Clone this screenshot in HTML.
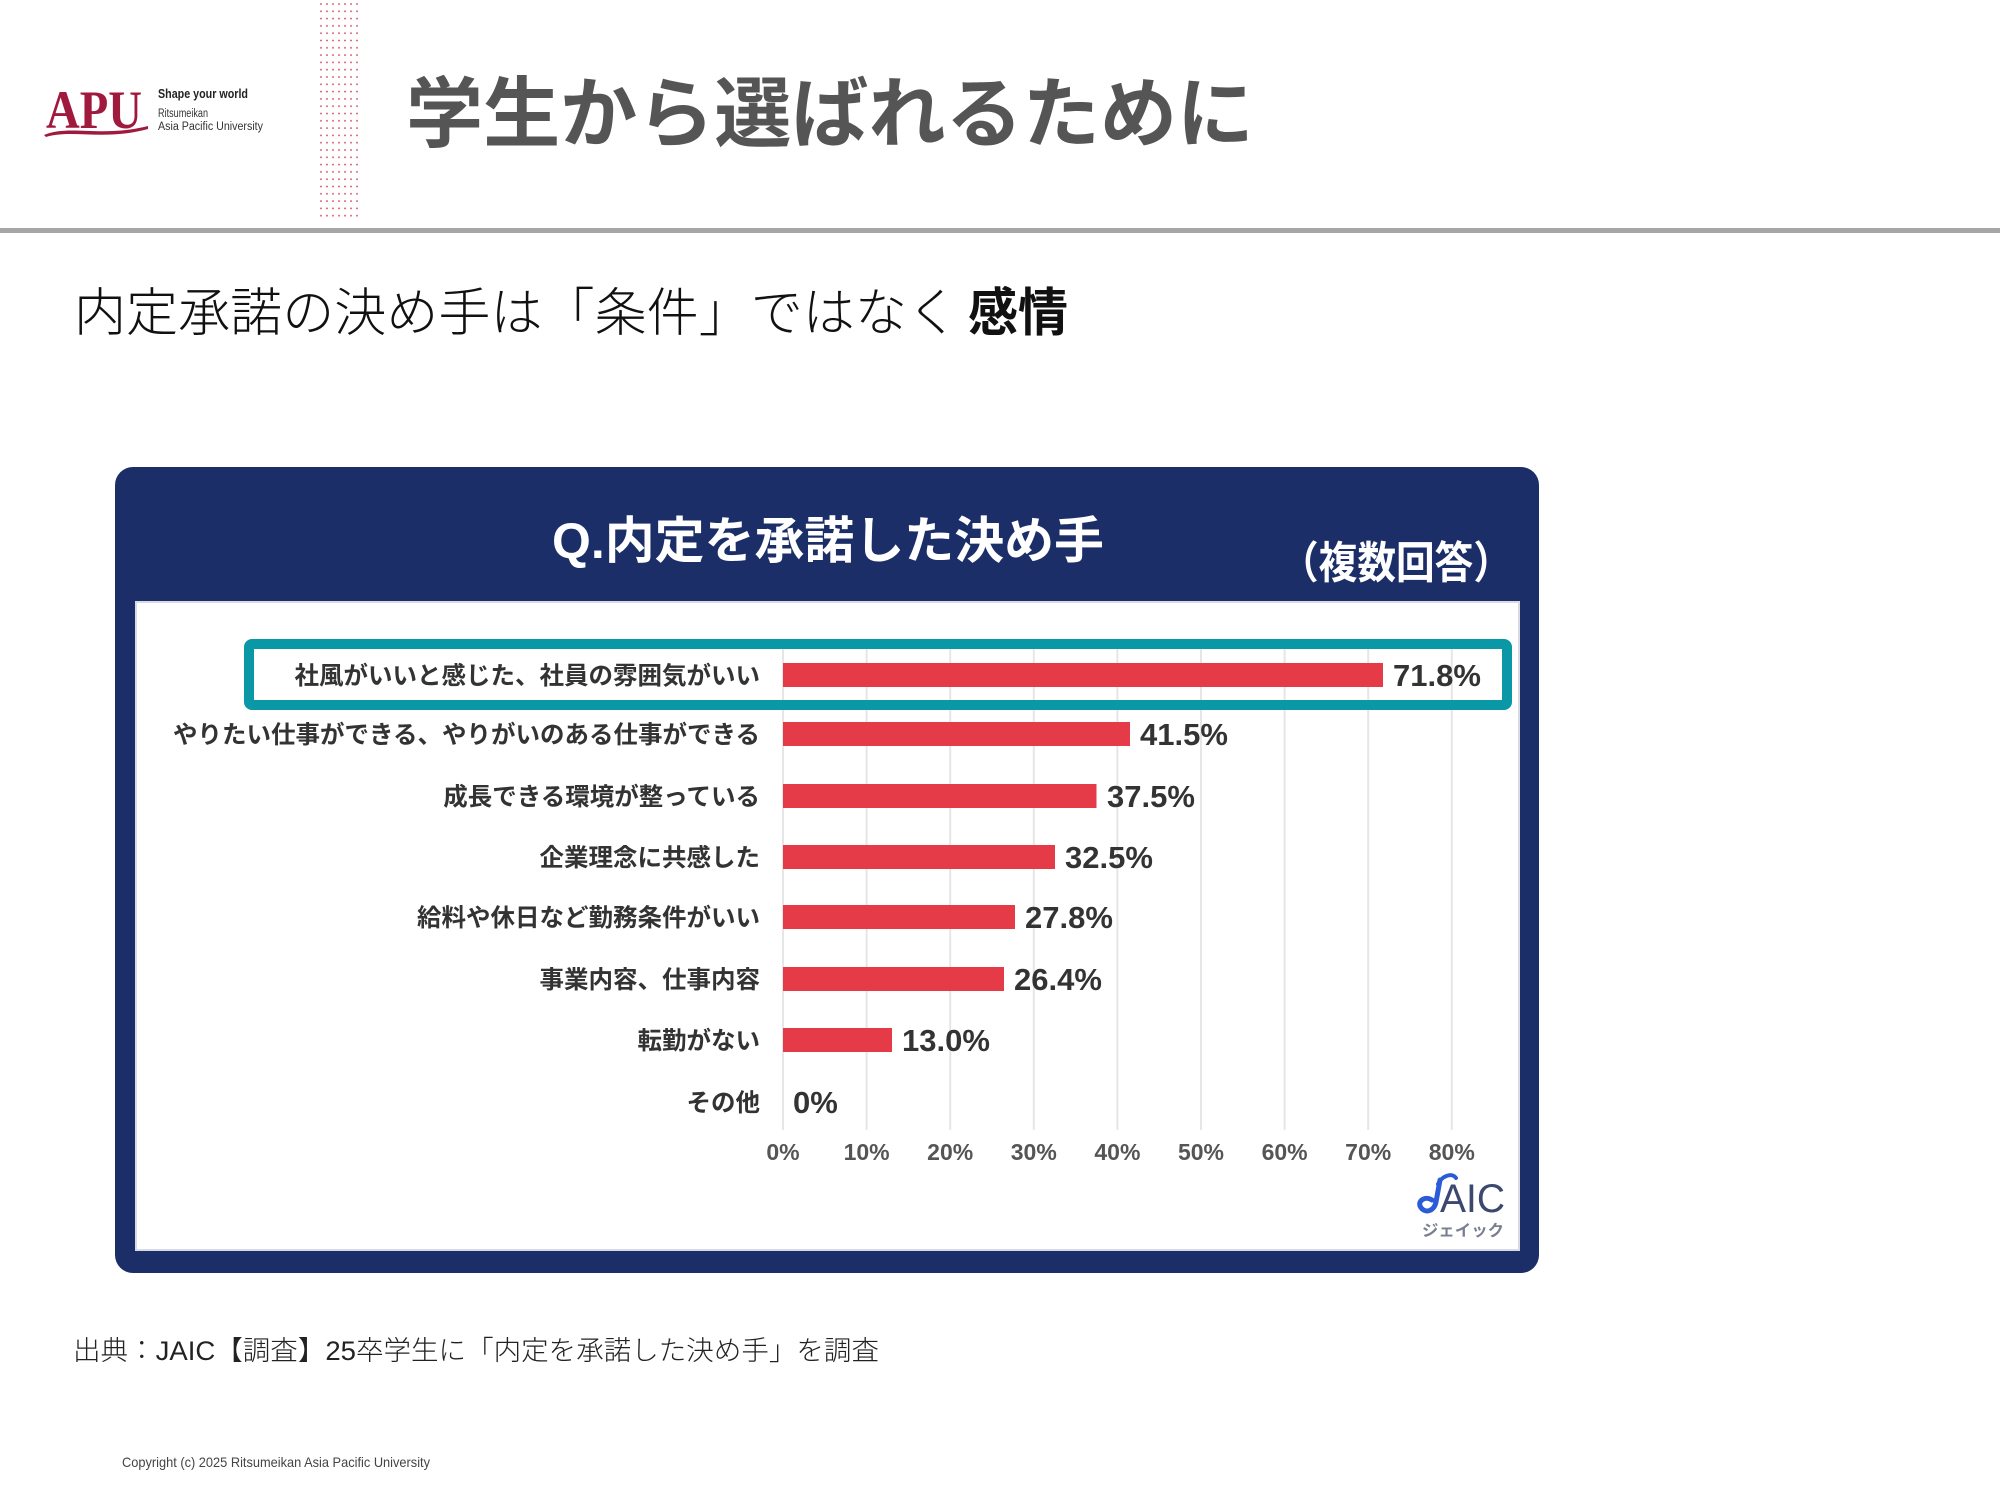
<!DOCTYPE html>
<html lang="ja">
<head>
<meta charset="utf-8">
<style>
  html, body { margin: 0; padding: 0; background: #ffffff; }
  body { width: 2000px; height: 1500px; overflow: hidden; }
  svg { display: block; }
  .jp { font-family: "Liberation Sans", "Noto Sans CJK JP", sans-serif; }
</style>
</head>
<body>
<svg width="2000" height="1500" viewBox="0 0 2000 1500" xmlns="http://www.w3.org/2000/svg">
  <defs>
    <pattern id="dots" x="319" y="2" width="6" height="7.3" patternUnits="userSpaceOnUse">
      <circle cx="2" cy="2" r="0.9" fill="#d9485a"/>
    </pattern>
  </defs>
  <rect x="0" y="0" width="2000" height="1500" fill="#ffffff"/>

  <!-- APU logo -->
  <text x="46" y="128" font-family="Liberation Serif, serif" font-weight="700" font-size="54" fill="#a01a3e" textLength="96" lengthAdjust="spacingAndGlyphs">APU</text>
  <path d="M44 135 C 70 124, 100 138, 148 126 L 148 129 C 104 141, 72 129, 46 137 Z" fill="#a01a3e"/>
  <text x="158" y="98" font-family="Liberation Sans, sans-serif" font-weight="700" font-size="12.5" fill="#222" textLength="90" lengthAdjust="spacingAndGlyphs">Shape your world</text>
  <text x="158" y="117" font-family="Liberation Sans, sans-serif" font-size="11.5" fill="#333" textLength="50" lengthAdjust="spacingAndGlyphs">Ritsumeikan</text>
  <text x="158" y="130" font-family="Liberation Sans, sans-serif" font-size="11.5" fill="#333" textLength="105" lengthAdjust="spacingAndGlyphs">Asia Pacific University</text>

  <!-- dotted band -->
  <rect x="319" y="0" width="42" height="221" fill="url(#dots)"/>

  <!-- Title -->
  <text class="jp" x="406" y="141" font-size="77" font-weight="700" fill="#555555" textLength="848" lengthAdjust="spacingAndGlyphs">学生から選ばれるために</text>

  <!-- gray rule -->
  <rect x="0" y="228" width="2000" height="5" fill="#a6a6a6"/>

  <!-- Subtitle -->
  <text class="jp" x="74" y="331" font-size="52" font-weight="300" fill="#111111" textLength="885" lengthAdjust="spacingAndGlyphs">内定承諾の決め手は「条件」ではなく</text>
  <text class="jp" x="968" y="331" font-size="52" font-weight="700" fill="#111111" textLength="100" lengthAdjust="spacingAndGlyphs">感情</text>

  <!-- Chart frame -->
  <rect x="115" y="467" width="1424" height="806" rx="18" ry="18" fill="#1c2e68"/>
  <rect x="136" y="602" width="1383" height="648" fill="#ffffff" stroke="#d8dbe4" stroke-width="2"/>

  <text class="jp" x="552" y="558" font-size="50" font-weight="700" fill="#ffffff" textLength="552" lengthAdjust="spacingAndGlyphs">Q.内定を承諾した決め手</text>
  <text class="jp" x="1280" y="578" font-size="44" font-weight="700" fill="#ffffff" textLength="232" lengthAdjust="spacingAndGlyphs">（複数回答）</text>

  <!-- gridlines -->
  <g stroke="#e6e6e6" stroke-width="2">
    <line x1="783" y1="645" x2="783" y2="1130"/>
    <line x1="866.6" y1="645" x2="866.6" y2="1130"/>
    <line x1="950.2" y1="645" x2="950.2" y2="1130"/>
    <line x1="1033.8" y1="645" x2="1033.8" y2="1130"/>
    <line x1="1117.4" y1="645" x2="1117.4" y2="1130"/>
    <line x1="1201" y1="645" x2="1201" y2="1130"/>
    <line x1="1284.6" y1="645" x2="1284.6" y2="1130"/>
    <line x1="1368.2" y1="645" x2="1368.2" y2="1130"/>
    <line x1="1451.8" y1="645" x2="1451.8" y2="1130"/>
  </g>

  <!-- teal highlight box -->
  <rect x="249" y="644" width="1258" height="61" rx="3" ry="3" fill="none" stroke="#0a97a6" stroke-width="10"/>

  <!-- bars -->
  <g fill="#e53a48">
    <rect x="783" y="663" width="600" height="24"/>
    <rect x="783" y="722" width="347" height="24"/>
    <rect x="783" y="784" width="313.5" height="24"/>
    <rect x="783" y="845" width="272" height="24"/>
    <rect x="783" y="905" width="232" height="24"/>
    <rect x="783" y="967" width="221" height="24"/>
    <rect x="783" y="1028" width="109" height="24"/>
  </g>

  <!-- category labels -->
  <g class="jp" font-size="24.5" font-weight="700" fill="#333333" text-anchor="end">
    <text x="760" y="684">社風がいいと感じた、社員の雰囲気がいい</text>
    <text x="760" y="743">やりたい仕事ができる、やりがいのある仕事ができる</text>
    <text x="760" y="805">成長できる環境が整っている</text>
    <text x="760" y="866">企業理念に共感した</text>
    <text x="760" y="926">給料や休日など勤務条件がいい</text>
    <text x="760" y="988">事業内容、仕事内容</text>
    <text x="760" y="1049">転勤がない</text>
    <text x="760" y="1111">その他</text>
  </g>

  <!-- value labels -->
  <g font-family="Liberation Sans, sans-serif" font-size="31" font-weight="700" fill="#333333">
    <text x="1393" y="686">71.8%</text>
    <text x="1140" y="745">41.5%</text>
    <text x="1107" y="807">37.5%</text>
    <text x="1065" y="868">32.5%</text>
    <text x="1025" y="928">27.8%</text>
    <text x="1014" y="990">26.4%</text>
    <text x="902" y="1051">13.0%</text>
    <text x="793" y="1113">0%</text>
  </g>

  <!-- axis labels -->
  <g font-family="Liberation Sans, sans-serif" font-size="23" font-weight="700" fill="#555555" text-anchor="middle">
    <text x="783" y="1160">0%</text>
    <text x="866.6" y="1160">10%</text>
    <text x="950.2" y="1160">20%</text>
    <text x="1033.8" y="1160">30%</text>
    <text x="1117.4" y="1160">40%</text>
    <text x="1201" y="1160">50%</text>
    <text x="1284.6" y="1160">60%</text>
    <text x="1368.2" y="1160">70%</text>
    <text x="1451.8" y="1160">80%</text>
  </g>

  <!-- JAIC logo -->
  <path d="M1440 1180 L1436 1202 C 1434 1212, 1424 1214, 1420 1206 C 1418 1200, 1426 1196, 1432 1200" fill="none" stroke="#2b5bd8" stroke-width="5" stroke-linecap="round"/>
  <path d="M1438 1184 C 1442 1176, 1452 1172, 1456 1178" fill="none" stroke="#2b5bd8" stroke-width="4" stroke-linecap="round"/>
  <text x="1440" y="1212" font-family="Liberation Sans, sans-serif" font-size="40" fill="#3d4870" textLength="65" lengthAdjust="spacingAndGlyphs">AIC</text>
  <text class="jp" x="1422" y="1236" font-size="16" font-weight="700" fill="#7a7f90" textLength="82" lengthAdjust="spacingAndGlyphs">ジェイック</text>

  <!-- Source -->
  <text class="jp" x="73" y="1360" font-size="27" font-weight="300" fill="#222222" textLength="806" lengthAdjust="spacingAndGlyphs">出典：JAIC【調査】25卒学生に「内定を承諾した決め手」を調査</text>

  <!-- Copyright -->
  <text x="122" y="1467" font-family="Liberation Sans, sans-serif" font-size="14" fill="#444444" textLength="308" lengthAdjust="spacingAndGlyphs">Copyright (c) 2025 Ritsumeikan Asia Pacific University</text>
</svg>
</body>
</html>
